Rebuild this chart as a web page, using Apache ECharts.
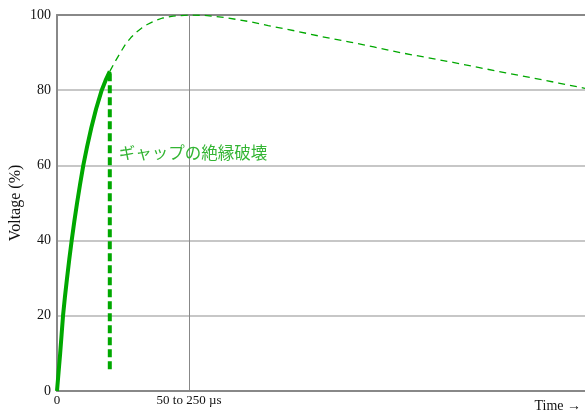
<!DOCTYPE html>
<html>
<head>
<meta charset="utf-8">
<script src="https://cdn.jsdelivr.net/npm/echarts@6/dist/echarts.min.js"></script>
<style>
  html, body { margin: 0; padding: 0; background: #fff; }
  #chart { width: 585px; height: 412px; }
</style>
</head>
<body>
<div id="chart"></div>
<script>
// 立ち上がり（実線）
const riseTime = [0, 0.3, 0.6, 0.87, 1.14, 1.5, 1.9, 2.32, 2.78, 3.27, 3.8, 4.37, 4.98, 5.7, 6.5, 7.4, 8.47, 9.2, 10];
const riseVolt = [0, 5, 10, 15, 20, 25, 30, 35, 40, 45, 50, 55, 60, 65, 70, 75, 80, 82.6, 85];
// 破壊がなかった場合の波形（破線）
const tailTime = [10, 11, 12, 13, 14, 15, 16, 17, 18, 19, 20, 22, 25, 28, 32, 36.6, 40, 45, 50, 55.5, 60, 65, 70, 75, 80, 85, 90, 95, 100];
const tailVolt = [85, 87.6, 90, 92.3, 94, 95.4, 96.5, 97.4, 98.1, 98.7, 99.2, 99.7, 100, 99.9, 99.3, 98.2, 97.2, 95.8, 94.3, 92.8, 91.5, 90, 88.7, 87.4, 86, 84.6, 83.3, 81.9, 80.5];
// 絶縁破壊の縦線
const breakTime = [10, 10];
const breakVolt = [84.5, 5];
const peakTime = 25;
const yTicks = [0, 20, 40, 60, 80, 100];
const xLabels = { 0: "0", 25: "50 to 250 µs" };
const noteText = "ギャップの絶縁破壊";

const green = "#00a800";
const serif = "'Liberation Serif', 'DejaVu Serif', serif";

const zip = (xs, ys) => xs.map((x, i) => [x, ys[i]]);

const chart = echarts.init(document.getElementById("chart"));
const option = {
  animation: false,
  grid: { left: 57, right: 0, top: 15, bottom: 21, outerBoundsMode: "none", containLabel: false },
  xAxis: [
    {
      type: "value",
      min: 0,
      max: 100,
      interval: 25,
      position: "bottom",
      axisLine: { show: true, onZero: false, lineStyle: { color: "#888", width: 2 } },
      axisTick: { show: false },
      splitLine: { show: false },
      axisLabel: {
        margin: 3,
        color: "#111",
        fontFamily: serif,
        fontSize: 13,
        formatter: (v) => xLabels[v] || "",
      },
      name: "Time →",
      nameLocation: "end",
      nameGap: -4,
      nameMoveOverlap: false,
      nameTextStyle: {
        color: "#111",
        fontFamily: serif,
        fontSize: 14,
        align: "right",
        verticalAlign: "top",
        padding: [8, 0, 0, 0],
      },
    },
    {
      // 上端の枠線
      type: "value",
      min: 0,
      max: 100,
      position: "top",
      axisLine: { show: true, onZero: false, lineStyle: { color: "#888", width: 2 } },
      axisTick: { show: false },
      axisLabel: { show: false },
      splitLine: { show: false },
    },
  ],
  yAxis: {
    type: "value",
    min: yTicks[0],
    max: yTicks[yTicks.length - 1],
    interval: 20,
    axisLine: { show: true, lineStyle: { color: "#888", width: 2 } },
    axisTick: { show: false },
    axisLabel: { margin: 6, color: "#111", fontFamily: serif, fontSize: 14 },
    splitLine: { lineStyle: { color: "#b4b4b4", width: 1.5 } },
    name: "Voltage (%)",
    nameLocation: "middle",
    nameGap: 33,
    nameMoveOverlap: false,
    nameTextStyle: { color: "#111", fontFamily: serif, fontSize: 16 },
  },
  series: [
    {
      name: "tail",
      type: "line",
      data: zip(tailTime, tailVolt),
      smooth: false,
      symbol: "none",
      lineStyle: { color: green, width: 1.3, type: [7, 5] },
      z: 2,
      markLine: {
        silent: true,
        symbol: "none",
        label: { show: false },
        lineStyle: { color: "#888", width: 1, type: "solid" },
        data: [{ xAxis: peakTime }],
        z: 1,
      },
    },
    {
      name: "rise",
      type: "line",
      data: zip(riseTime, riseVolt),
      smooth: false,
      symbol: "none",
      lineStyle: { color: green, width: 4, join: "round" },
      z: 3,
    },
    {
      name: "breakdown",
      type: "line",
      data: zip(breakTime, breakVolt),
      symbol: "none",
      lineStyle: { color: green, width: 4, type: [8, 4] },
      z: 3,
      markPoint: {
        symbol: "circle",
        symbolSize: 0,
        data: [{ coord: [10, 63.3] }],
        label: {
          show: true,
          position: "right",
          distance: 9,
          formatter: noteText,
          color: "#33b533",
          fontFamily: "'Noto Sans CJK JP', sans-serif",
          fontSize: 16.5,
        },
      },
    },
  ],
};
chart.setOption(option);
</script>
</body>
</html>
